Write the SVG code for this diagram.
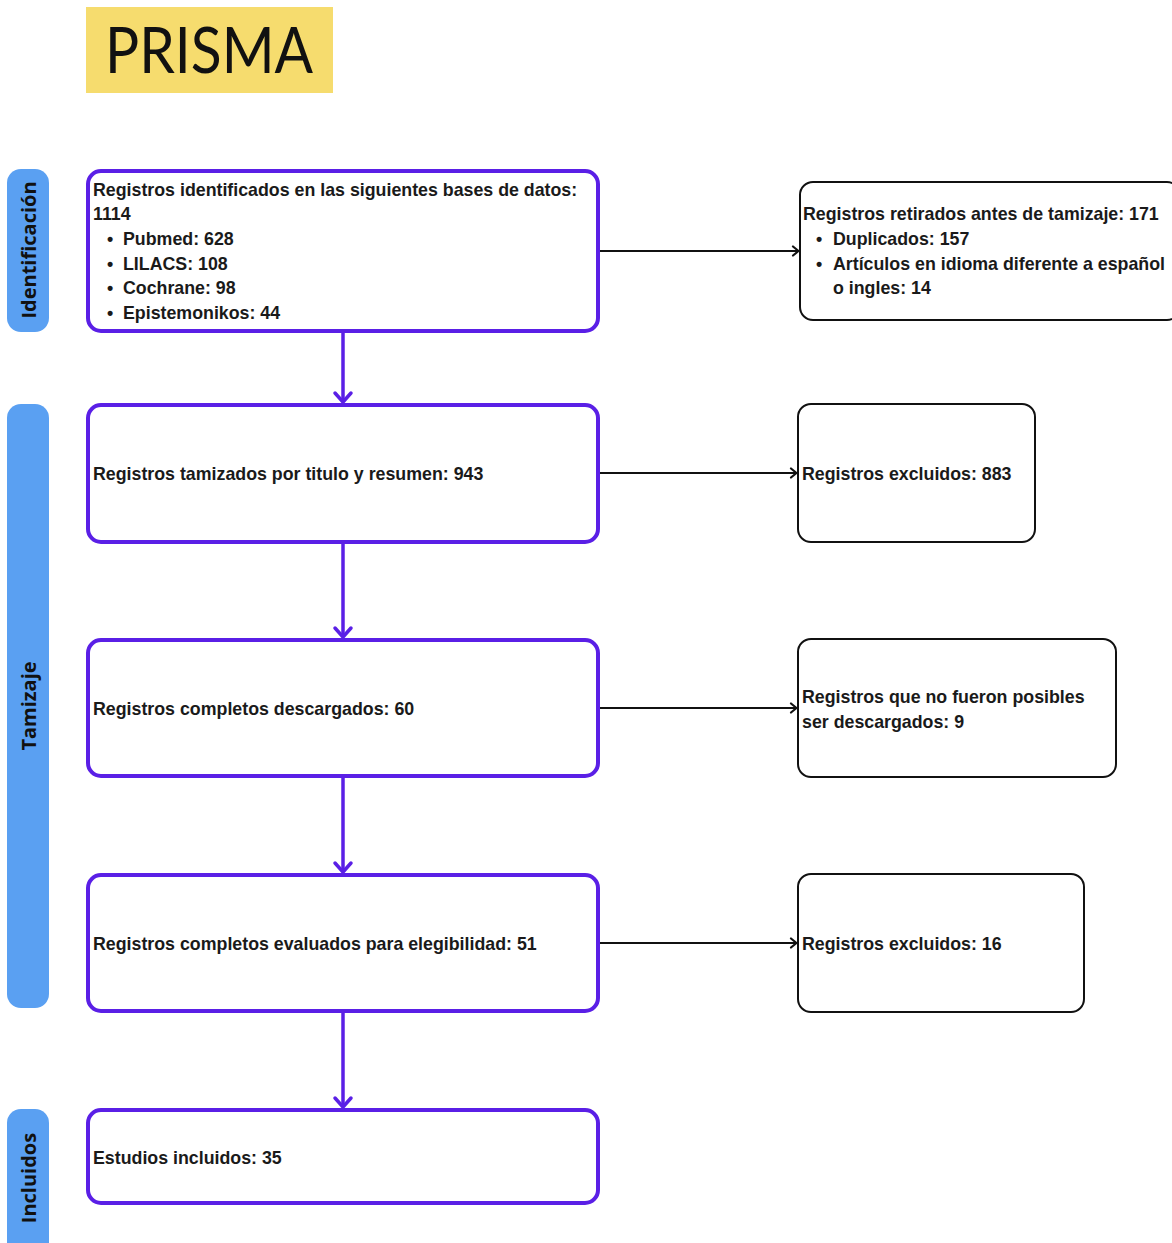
<svg xmlns="http://www.w3.org/2000/svg" width="1172" height="1243" viewBox="0 0 1172 1243">
<defs>
<style>
.main{fill:#fff;stroke:#5a1fe6;stroke-width:4}
.side{fill:#fff;stroke:#111;stroke-width:2}
.bar{fill:#5aa0f2}
.t{font-family:"Liberation Sans",Arial,sans-serif;font-weight:bold;font-size:17.8px;fill:#1a1a1a}
.lab{font-family:"Open Sans","Liberation Sans",sans-serif;font-weight:bold;font-size:20px;fill:#111}
.vline{stroke:#5a1fe6;stroke-width:3.5;fill:none}
.hline{stroke:#111;stroke-width:2;fill:none}
</style>
<marker id="pv" markerWidth="16" markerHeight="22" viewBox="0 0 16 22" refX="13" refY="11" orient="auto" markerUnits="userSpaceOnUse">
<path d="M4,3 L13,11 L4,19" fill="none" stroke="#5a1fe6" stroke-width="3.5" stroke-linecap="round" stroke-linejoin="round"/>
</marker>
<marker id="bh" markerWidth="12" markerHeight="12" viewBox="0 0 12 12" refX="10" refY="6" orient="auto" markerUnits="userSpaceOnUse">
<path d="M4,1.5 L9.5,6 L4,10.5" fill="none" stroke="#111" stroke-width="2.2" stroke-linecap="round" stroke-linejoin="round"/>
</marker>
</defs>
<rect width="1172" height="1243" fill="#fff"/>

<g id="title">
<rect x="86" y="7" width="247" height="86" fill="#f6dc6e"/>
<text x="105" y="73" font-family="Lato,'Open Sans',sans-serif" font-size="64" fill="#111" textLength="208" lengthAdjust="spacingAndGlyphs">PRISMA</text>
</g>

<g id="phase-identificacion">
<rect class="bar" x="7" y="169" width="42" height="163" rx="14"/>
<text class="lab" transform="translate(36,250) rotate(-90)" text-anchor="middle">Identificación</text>
</g>
<g id="phase-tamizaje">
<rect class="bar" x="7" y="404" width="42" height="604" rx="14"/>
<text class="lab" transform="translate(36,706) rotate(-90)" text-anchor="middle">Tamizaje</text>
</g>
<g id="phase-incluidos">
<rect class="bar" x="7" y="1109" width="42" height="150" rx="14"/>
<text class="lab" transform="translate(36,1178) rotate(-90)" text-anchor="middle">Incluidos</text>
</g>

<g id="connectors">
<line class="vline" x1="343" y1="333" x2="343" y2="402" marker-end="url(#pv)"/>
<line class="vline" x1="343" y1="544" x2="343" y2="637" marker-end="url(#pv)"/>
<line class="vline" x1="343" y1="778" x2="343" y2="872" marker-end="url(#pv)"/>
<line class="vline" x1="343" y1="1013" x2="343" y2="1107" marker-end="url(#pv)"/>
<line class="hline" x1="600" y1="251" x2="799" y2="251" marker-end="url(#bh)"/>
<line class="hline" x1="600" y1="473" x2="797" y2="473" marker-end="url(#bh)"/>
<line class="hline" x1="600" y1="708" x2="797" y2="708" marker-end="url(#bh)"/>
<line class="hline" x1="600" y1="943" x2="797" y2="943" marker-end="url(#bh)"/>
</g>

<g id="node-identificados">
<rect class="main" x="88" y="171" width="510" height="160" rx="13"/>
<text class="t" x="93" y="196">Registros identificados en las siguientes bases de datos:</text>
<text class="t" x="93" y="220">1114</text>
<text class="t" x="107" y="245">•</text><text class="t" x="123" y="245">Pubmed: 628</text>
<text class="t" x="107" y="270">•</text><text class="t" x="123" y="270">LILACS: 108</text>
<text class="t" x="107" y="294">•</text><text class="t" x="123" y="294">Cochrane: 98</text>
<text class="t" x="107" y="319">•</text><text class="t" x="123" y="319">Epistemonikos: 44</text>
</g>

<g id="node-retirados">
<rect class="side" x="800" y="182" width="380" height="138" rx="13"/>
<text class="t" x="803" y="220">Registros retirados antes de tamizaje: 171</text>
<text class="t" x="816" y="245">•</text><text class="t" x="833" y="245">Duplicados: 157</text>
<text class="t" x="816" y="270">•</text><text class="t" x="833" y="270">Artículos en idioma diferente a español</text>
<text class="t" x="833" y="294">o ingles: 14</text>
</g>

<g id="node-tamizados">
<rect class="main" x="88" y="405" width="510" height="137" rx="13"/>
<text class="t" x="93" y="480">Registros tamizados por titulo y resumen: 943</text>
</g>

<g id="node-excluidos-1">
<rect class="side" x="798" y="404" width="237" height="138" rx="13"/>
<text class="t" x="802" y="480">Registros excluidos: 883</text>
</g>

<g id="node-descargados">
<rect class="main" x="88" y="640" width="510" height="136" rx="13"/>
<text class="t" x="93" y="715">Registros completos descargados: 60</text>
</g>

<g id="node-no-descargados">
<rect class="side" x="798" y="639" width="318" height="138" rx="13"/>
<text class="t" x="802" y="703">Registros que no fueron posibles</text>
<text class="t" x="802" y="728">ser descargados: 9</text>
</g>

<g id="node-evaluados">
<rect class="main" x="88" y="875" width="510" height="136" rx="13"/>
<text class="t" x="93" y="950">Registros completos evaluados para elegibilidad: 51</text>
</g>

<g id="node-excluidos-2">
<rect class="side" x="798" y="874" width="286" height="138" rx="13"/>
<text class="t" x="802" y="950">Registros excluidos: 16</text>
</g>

<g id="node-incluidos">
<rect class="main" x="88" y="1110" width="510" height="93" rx="13"/>
<text class="t" x="93" y="1164">Estudios incluidos: 35</text>
</g>
</svg>
